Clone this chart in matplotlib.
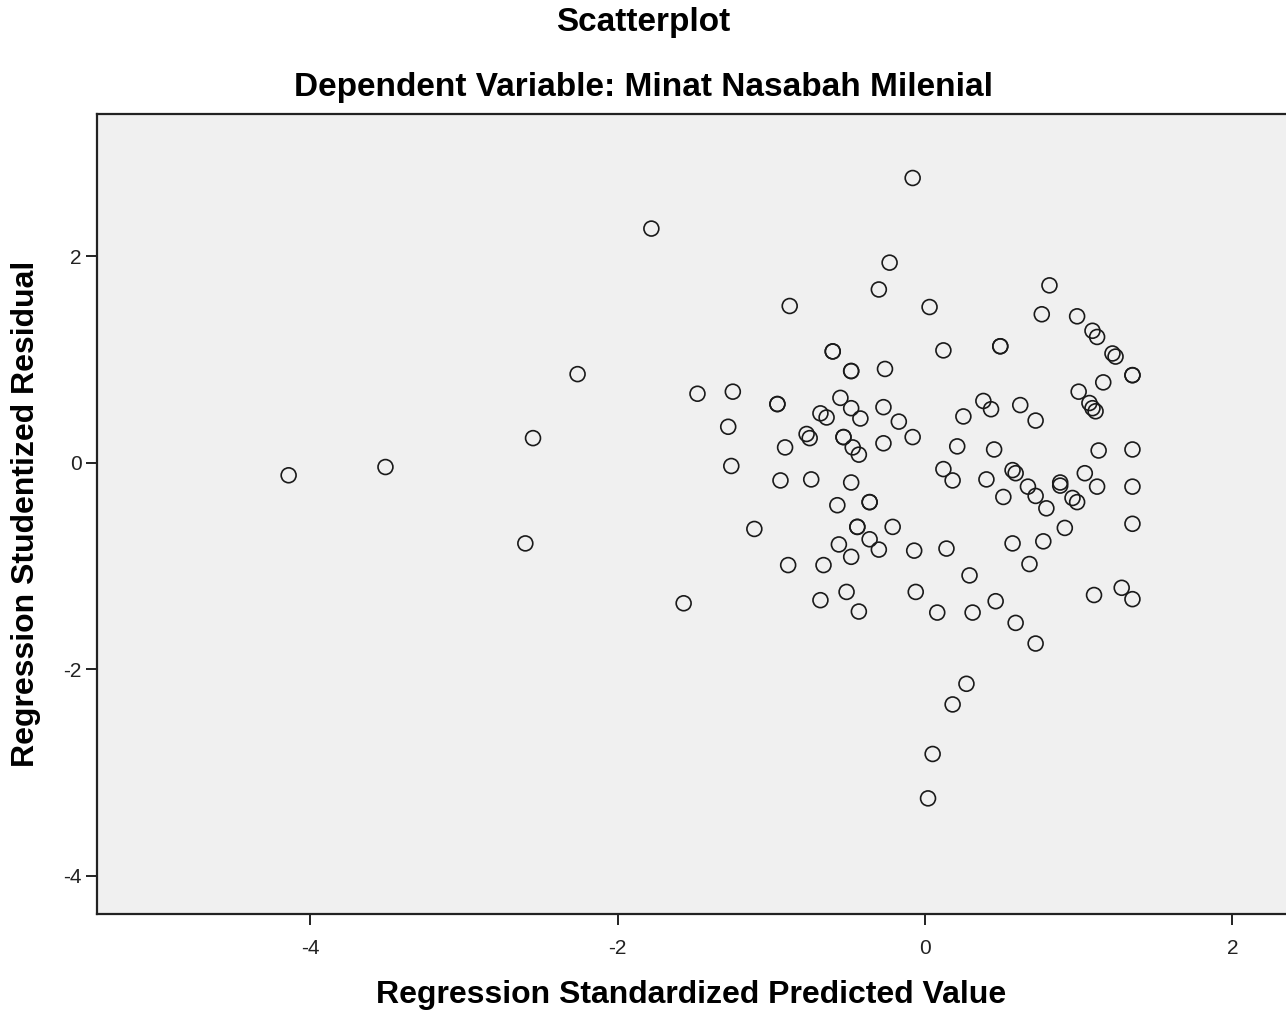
import matplotlib.pyplot as plt
import numpy as np

plt.rcParams['font.family'] = ['Liberation Sans', 'DejaVu Sans']
plt.rcParams['axes.unicode_minus'] = False

# Regression Standardized Predicted Value
pred = [-4.14, -3.51, -2.55, -2.60, -2.26, -1.78, -1.57, -1.48, -1.25, -1.28,
        -1.26, -1.11, -0.96, -0.96, -0.88, -0.91, -0.94, -0.89, -0.77, -0.75,
        -0.74, -0.68, -0.64, -0.66, -0.68, -0.60, -0.60, -0.57, -0.56, -0.55,
        -0.53, -0.53, -0.51, -0.48, -0.48, -0.48, -0.48, -0.48, -0.47, -0.43,
        -0.44, -0.44, -0.43, -0.42, -0.36, -0.36, -0.36, -0.30, -0.30, -0.26,
        -0.27, -0.27, -0.23, -0.21, -0.17, -0.08, -0.08, -0.07, -0.06, 0.03,
        0.05, 0.02, 0.08, 0.12, 0.12, 0.14, 0.18, 0.18, 0.21, 0.25,
        0.27, 0.29, 0.31, 0.38, 0.40, 0.43, 0.46, 0.45, 0.49, 0.49,
        0.51, 0.57, 0.57, 0.59, 0.59, 0.62, 0.67, 0.68, 0.72, 0.72,
        0.72, 0.76, 0.77, 0.79, 0.81, 0.88, 0.88, 0.91, 0.96, 0.99,
        0.99, 1.00, 1.04, 1.07, 1.09, 1.11, 1.09, 1.12, 1.12, 1.10,
        1.13, 1.16, 1.22, 1.24, 1.28, 1.35, 1.35, 1.35, 1.35, 1.35,
        1.35]

# Regression Studentized Residual
resid = [-0.12, -0.04, 0.24, -0.78, 0.86, 2.27, -1.36, 0.67, 0.69, 0.35,
         -0.03, -0.64, 0.57, 0.57, 1.52, 0.15, -0.17, -0.99, 0.28, 0.24,
         -0.16, 0.48, 0.44, -0.99, -1.33, 1.08, 1.08, -0.41, -0.79, 0.63,
         0.25, 0.25, -1.25, 0.89, 0.89, 0.53, -0.19, -0.91, 0.15, 0.08,
         -0.62, -0.62, -1.44, 0.43, -0.38, -0.38, -0.74, -0.84, 1.68, 0.91,
         0.54, 0.19, 1.94, -0.62, 0.40, 2.76, 0.25, -0.85, -1.25, 1.51,
         -2.82, -3.25, -1.45, 1.09, -0.06, -0.83, -2.34, -0.17, 0.16, 0.45,
         -2.14, -1.09, -1.45, 0.60, -0.16, 0.52, -1.34, 0.13, 1.13, 1.13,
         -0.33, -0.78, -0.07, -0.10, -1.55, 0.56, -0.23, -0.98, -0.32, 0.41,
         -1.75, 1.44, -0.76, -0.44, 1.72, -0.19, -0.22, -0.63, -0.34, -0.38,
         1.42, 0.69, -0.10, 0.58, 0.53, 0.50, 1.28, 1.22, -0.23, -1.28,
         0.12, 0.78, 1.06, 1.03, -1.21, 0.85, 0.85, 0.13, -0.23, -0.59,
         -1.32]

x_ticks = [-4, -2, 0, 2]
y_ticks = [-4, -2, 0, 2]

fig = plt.figure(figsize=(12.86, 10.17), dpi=100)
ax = fig.add_axes([0.0754, 0.1013, 0.9246, 0.7866])
ax.set_facecolor('#f0f0f0')

ax.scatter(pred, resid, s=115, facecolors='none', edgecolors='#1a1a1a',
           linewidths=1.2, zorder=3)

ax.set_xlim(-5.387, 2.349)
ax.set_ylim(-4.37, 3.38)
ax.set_xticks(x_ticks)
ax.set_yticks(y_ticks)

ax.spines['right'].set_visible(False)
for side in ['left', 'bottom', 'top']:
    ax.spines[side].set_linewidth(1.6)
    ax.spines[side].set_color('#222222')

ax.tick_params(direction='out', length=8, width=1.4, colors='#222222',
               labelsize=15)
ax.tick_params(axis='x', pad=10)
ax.tick_params(axis='y', pad=3)

ax.set_xlabel('Regression Standardized Predicted Value', fontsize=23,
              fontweight='bold', va='center')
ax.xaxis.set_label_coords(0.5, -0.101)
ax.set_ylabel('Regression Studentized Residual', fontsize=23,
              fontweight='bold', va='center')
ax.yaxis.set_label_coords(-0.060, 0.5)

fig.text(0.5, 0.978, 'Scatterplot', ha='center', va='center',
         fontsize=24, fontweight='bold')
fig.text(0.5, 0.914, 'Dependent Variable: Minat Nasabah Milenial',
         ha='center', va='center', fontsize=24, fontweight='bold')

plt.savefig('out.png', dpi=100)
